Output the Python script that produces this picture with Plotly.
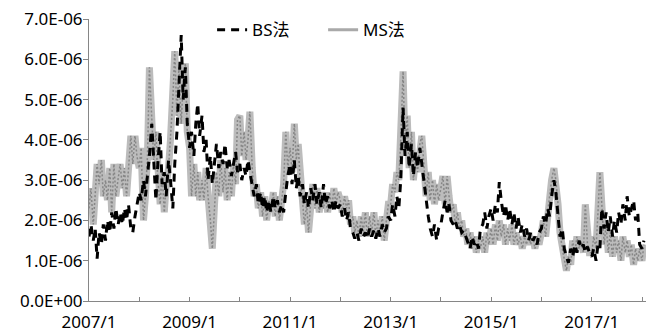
import pandas as pd
import plotly.graph_objects as go

# Semi-monthly observations, 2007/1 .. 2018/1 (1st and 15th of each month)
dates = pd.date_range("2007-01-01", "2018-01-15", freq="SMS")

# BS法 estimates (units of 1e-6)
bs_vals = [
    # 2007
    1.6, 1.9, 1.5, 1.8, 1.05, 1.7, 1.4, 1.9, 1.5, 2.0, 1.7, 2.2,
    1.8, 2.3, 1.9, 2.2, 1.9, 2.3, 2.0, 2.4, 1.8, 1.7, 2.1, 2.4,
    # 2008
    2.7, 2.5, 3.0, 2.6, 3.1, 3.6, 4.4, 3.4, 2.5, 3.4, 4.2, 2.9,
    3.2, 2.6, 3.5, 3.0, 2.3, 3.4, 4.2, 5.3, 6.6, 5.0, 5.8, 4.4,
    # 2009
    3.8, 4.2, 3.6, 4.4, 4.9, 4.1, 4.6, 3.7, 4.0, 3.0, 3.6, 2.9,
    3.4, 3.9, 3.3, 3.7, 3.4, 3.9, 3.3, 3.5, 3.1, 3.4, 3.7, 3.2,
    # 2010
    3.4, 3.0, 3.3, 3.1, 3.5, 3.2, 2.9, 2.6, 2.9, 2.4, 2.7, 2.3,
    2.6, 2.2, 2.5, 2.2, 2.6, 2.3, 2.5, 2.2, 2.4, 2.2, 2.7, 3.1,
    # 2011
    3.4, 2.9, 3.5, 2.8, 3.1, 2.6, 2.9, 2.4, 2.7, 2.3, 2.8, 2.5,
    2.9, 2.4, 2.7, 2.3, 2.9, 2.4, 2.6, 2.3, 2.5, 2.2, 2.5, 2.3,
    # 2012
    2.4, 2.1, 2.3, 2.0, 2.2, 1.8, 1.7, 1.55, 1.7, 1.5, 1.8, 1.6,
    1.7, 1.55, 1.8, 1.6, 1.75, 1.55, 1.8, 1.6, 1.9, 1.7, 1.8, 2.1,
    # 2013
    2.0, 2.4, 2.1, 2.6, 2.3, 3.0, 4.8, 3.6, 4.2, 3.3, 3.9, 3.1,
    3.7, 3.3, 3.8, 3.4, 2.9, 2.4, 2.1, 1.8, 1.6, 1.9, 1.5, 1.8,
    # 2014
    1.9, 2.2, 2.5, 2.2, 2.4, 2.0, 1.9, 2.0, 1.8, 1.9, 1.7, 1.75,
    1.6, 1.5, 1.3, 1.6, 1.4, 1.5, 1.3, 1.8, 1.9, 2.2, 1.8, 2.1,
    # 2015
    2.3, 2.0, 2.4, 2.2, 2.95, 2.5, 2.1, 2.4, 2.0, 2.3, 1.9, 2.2,
    1.8, 2.1, 1.7, 1.9, 1.6, 1.8, 1.5, 1.7, 1.5, 1.6, 1.4, 1.7,
    # 2016
    1.8, 2.1, 1.9, 2.3, 2.1, 2.6, 3.0, 2.7, 2.0, 1.6, 1.8, 1.3,
    1.1, 0.95, 1.3, 1.1, 1.4, 1.2, 1.5, 1.3, 1.4, 1.2, 1.35, 1.2,
    # 2017
    1.1, 1.3, 1.0, 1.4, 1.3, 2.3, 1.8, 2.2, 1.7, 2.1, 1.6, 2.0,
    1.7, 2.2, 1.9, 2.4, 2.0, 2.6, 2.1, 2.3, 2.5, 2.0, 2.2, 1.4,
    # 2018
    1.3, 1.5,
]

# MS法 estimates (units of 1e-6)
ms_vals = [
    # 2007
    2.3, 2.8, 1.9, 2.6, 3.4, 2.9, 3.5, 2.6, 3.0, 2.5, 3.3, 2.2,
    3.4, 2.6, 3.1, 3.4, 2.8, 3.3, 2.6, 3.2, 4.1, 3.4, 4.1, 3.6,
    # 2008
    3.3, 3.8, 2.0, 2.6, 3.6, 5.8, 4.5, 3.5, 4.2, 3.0, 2.4, 3.2,
    2.2, 2.9, 3.3, 4.0, 5.0, 6.2, 4.6, 5.8, 4.4, 5.4, 5.9, 4.2,
    # 2009
    3.8, 2.6, 3.4, 2.6, 3.2, 2.5, 3.0, 2.5, 3.3, 2.6, 2.0, 1.3,
    2.4, 3.2, 2.6, 3.5, 2.7, 3.3, 2.5, 3.2, 2.6, 3.4, 2.9, 4.5,
    # 2010
    4.6, 3.6, 4.2, 3.5, 4.0, 4.7, 3.3, 2.6, 2.9, 2.3, 2.7, 2.1,
    2.6, 2.0, 2.5, 2.2, 2.7, 2.1, 2.6, 2.0, 2.5, 2.9, 4.2, 3.3,
    # 2011
    3.8, 3.2, 4.4, 3.5, 3.9, 3.0, 2.5, 1.9, 2.4, 1.7, 2.5, 2.9,
    2.3, 2.8, 2.2, 2.7, 2.3, 2.6, 2.2, 2.7, 2.3, 2.8, 2.4, 2.7,
    # 2012
    2.5, 2.2, 2.6, 2.3, 2.5, 1.9, 2.1, 1.7, 2.0, 1.6, 2.1, 1.7,
    2.2, 1.6, 2.1, 1.7, 2.2, 1.6, 2.0, 1.7, 2.1, 1.5, 2.0, 2.4,
    # 2013
    2.4, 2.9, 2.7, 3.2, 3.0, 4.0, 5.7, 3.8, 4.6, 3.3, 4.2, 3.0,
    3.6, 3.2, 3.9, 4.1, 3.3, 2.6, 3.2, 2.5, 3.0, 2.4, 2.9, 2.5,
    # 2014
    2.8, 3.1, 2.4, 3.1, 2.6, 2.2, 2.4, 1.9, 2.2, 1.8, 2.0, 1.6,
    1.8, 1.4, 1.7, 1.3, 1.6, 1.2, 1.5, 1.3, 1.6, 1.2, 1.7, 1.4,
    # 2015
    1.8, 1.4, 1.9, 1.5, 2.0, 1.6, 1.9, 1.4, 1.8, 1.5, 1.9, 1.4,
    1.7, 1.4, 1.6, 1.3, 1.6, 1.4, 1.7, 1.4, 1.6, 1.3, 1.6, 1.4,
    # 2016
    1.7, 2.0, 1.6, 2.2, 2.6, 3.0, 3.3, 3.0, 2.4, 1.7, 1.3, 1.0,
    0.75, 1.1, 0.9, 1.5, 1.2, 1.6, 1.3, 1.5, 1.2, 2.4, 1.4, 1.2,
    # 2017
    1.2, 1.6, 1.3, 2.2, 3.2, 2.4, 1.4, 1.9, 1.2, 1.7, 1.1, 1.6,
    1.2, 1.5, 1.0, 1.6, 1.2, 1.5, 1.1, 1.4, 0.9, 1.3, 1.0, 1.3,
    # 2018
    1.0, 1.4,
]

bs = [v * 1e-6 for v in bs_vals]
ms = [v * 1e-6 for v in ms_vals]

y_tick_vals = [0, 1e-6, 2e-6, 3e-6, 4e-6, 5e-6, 6e-6, 7e-6]
y_tick_text = ["0.0E+00", "1.0E-06", "2.0E-06", "3.0E-06",
               "4.0E-06", "5.0E-06", "6.0E-06", "7.0E-06"]

x_tick_vals = [f"{y}-01-01" for y in range(2007, 2019)]
x_tick_text = [f"{y}/1" if (y - 2007) % 2 == 0 else "" for y in range(2007, 2019)]

font_family = "Noto Sans, Noto Sans CJK SC, sans-serif"

fig = go.Figure()

# MS: wide light-grey band with a darker dotted core for texture
fig.add_trace(go.Scatter(
    x=dates, y=ms, mode="lines", showlegend=False,
    line=dict(color="#bcbcbc", width=7),
))
fig.add_trace(go.Scatter(
    x=dates, y=ms, mode="lines", showlegend=False, hoverinfo="skip",
    line=dict(color="#868686", width=1.5, dash="2px,2px"),
))
# BS: black dashed line
fig.add_trace(go.Scatter(
    x=dates, y=bs, mode="lines", name="BS法",
    line=dict(color="#000000", width=3, dash="8px,6px"),
))
# legend key for the MS band (thin swatch)
fig.add_trace(go.Scatter(
    x=[None], y=[None], mode="lines", name="MS法",
    line=dict(color="#a9a9a9", width=3),
))

fig.update_layout(
    width=646, height=333,
    margin=dict(l=89, r=0, t=19, b=32),
    paper_bgcolor="white", plot_bgcolor="white",
    font=dict(family=font_family, size=17, color="#000000"),
    showlegend=True,
    legend=dict(
        orientation="h", x=0.221, y=0.96, xanchor="left", yanchor="middle",
        traceorder="normal", bgcolor="rgba(0,0,0,0)",
        font=dict(family=font_family, size=17),
        entrywidth=66, entrywidthmode="pixels",
    ),
    xaxis=dict(
        type="date", range=["2007-01-01", "2018-01-30"],
        tickmode="array", tickvals=x_tick_vals, ticktext=x_tick_text,
        showgrid=False, zeroline=False,
        showline=True, linecolor="#868686", linewidth=1,
        ticks="inside", ticklen=4, tickcolor="#868686",
        ticklabelstandoff=6,
    ),
    yaxis=dict(
        range=[0, 7e-6],
        tickmode="array", tickvals=y_tick_vals, ticktext=y_tick_text,
        showgrid=False, zeroline=False,
        showline=True, linecolor="#868686", linewidth=1,
        ticks="outside", ticklen=5, tickcolor="#868686",
        ticklabelstandoff=-3,
    ),
)

fig.write_html("out.html")
